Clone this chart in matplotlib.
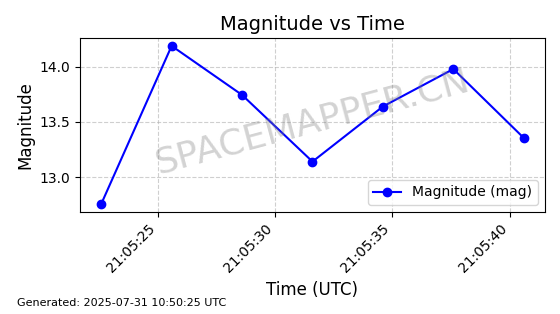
import datetime as dt
import matplotlib
matplotlib.use("Agg")
import matplotlib.pyplot as plt
import matplotlib.dates as mdates

seconds = [22.6, 25.6, 28.6, 31.6, 34.6, 37.6, 40.6]
magnitudes = [12.755, 14.19, 13.745, 13.14, 13.64, 13.98, 13.355]

base = dt.datetime(2025, 7, 31, 21, 5, 0)
times = [base + dt.timedelta(seconds=s) for s in seconds]

fig = plt.figure(figsize=(5.6, 3.14), dpi=100)
ax = fig.add_axes([0.143, 0.325, 0.830, 0.554])

ax.plot(times, magnitudes, color="blue", marker="o", markersize=6,
        linewidth=1.5, label="Magnitude (mag)")

ax.set_title("Magnitude vs Time", fontsize=14)
ax.set_xlabel("Time (UTC)", fontsize=12)
ax.set_ylabel("Magnitude", fontsize=12)
ax.grid(True, linestyle="--", alpha=0.6)

ax.xaxis.set_major_locator(mdates.SecondLocator(bysecond=range(0, 60, 5)))
ax.xaxis.set_major_formatter(mdates.DateFormatter("%H:%M:%S"))
plt.setp(ax.get_xticklabels(), rotation=45, ha="right")

ax.legend(loc="lower right")

# watermark
ax.text(0.5, 0.52, "SPACEMAPPER.CN", transform=ax.transAxes, fontsize=26,
        color="gray", alpha=0.35, rotation=15, ha="center", va="center")

fig.text(0.03, 0.025, "Generated: 2025-07-31 10:50:25 UTC", fontsize=8)

fig.savefig("out.png", dpi=100)
